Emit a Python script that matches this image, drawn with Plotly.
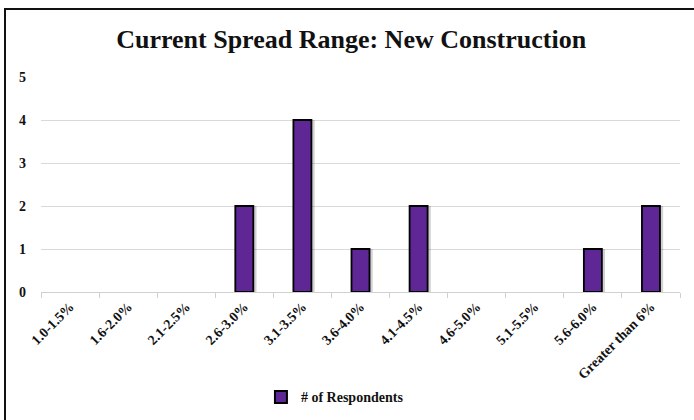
import plotly.graph_objects as go

categories = ["1.0-1.5%", "1.6-2.0%", "2.1-2.5%", "2.6-3.0%", "3.1-3.5%", "3.6-4.0%",
              "4.1-4.5%", "4.6-5.0%", "5.1-5.5%", "5.6-6.0%", "Greater than 6%"]
respondents = [0, 0, 0, 2, 4, 1, 2, 0, 0, 1, 2]
y_ticks = [0, 1, 2, 3, 4, 5]

FONT = "Liberation Serif"
BAR = "#5E2795"
INK = "#111111"

edge_widths = [1.8 if v > 0 else 0 for v in respondents]

fig = go.Figure()
# soft drop shadow behind bars
fig.add_trace(go.Bar(
    x=categories, y=respondents, width=0.31, offset=-0.10,
    marker=dict(color="rgba(0,0,0,0.18)", line=dict(width=0)),
    showlegend=False, hoverinfo="skip",
))
fig.add_trace(go.Bar(
    x=categories, y=respondents, width=0.31, offset=-0.155,
    name="# of Respondents",
    marker=dict(color=BAR, line=dict(color="#000000", width=edge_widths)),
))

fig.update_layout(
    width=694, height=420,
    barmode="overlay",
    paper_bgcolor="white", plot_bgcolor="white",
    margin=dict(l=41, r=14, t=77, b=128, autoexpand=False),
    title=dict(text="Current Spread Range: New Construction",
               x=0.506, xanchor="center", y=0.908, yanchor="middle",
               font=dict(family=FONT, size=26, color=INK, weight="bold")),
    font=dict(family=FONT, color=INK),
    showlegend=True,
    legend=dict(orientation="h", x=0.46, xanchor="center", y=-0.49, yanchor="middle",
                font=dict(family=FONT, size=14, color=INK, weight="bold"),
                itemwidth=30, itemsizing="constant"),
    shapes=[dict(type="rect", xref="paper", yref="paper",
                 x0=(5 - 41) / 639, x1=1.1, y0=-0.7, y1=(292 - 9) / 215,
                 line=dict(color=INK, width=2))],
)
fig.update_xaxes(
    type="category", showgrid=False, showline=True, linecolor="#d0d0d0", linewidth=1,
    ticks="outside", ticklen=5, tickcolor="#d0d0d0", tickson="boundaries",
    tickangle=-45, tickfont=dict(family=FONT, size=14, color=INK, weight="bold"),
    range=[-0.5, 10.5],
)
fig.update_yaxes(
    range=[0, 5], tickvals=y_ticks, showgrid=True, gridcolor="#d9d9d9", gridwidth=1,
    zeroline=False, showline=False, ticklabelstandoff=14,
    tickfont=dict(family=FONT, size=14, color=INK, weight="bold"),
)

fig.write_html("out.html", config={"displayModeBar": False},
               post_script="document.body.style.margin='0';")
